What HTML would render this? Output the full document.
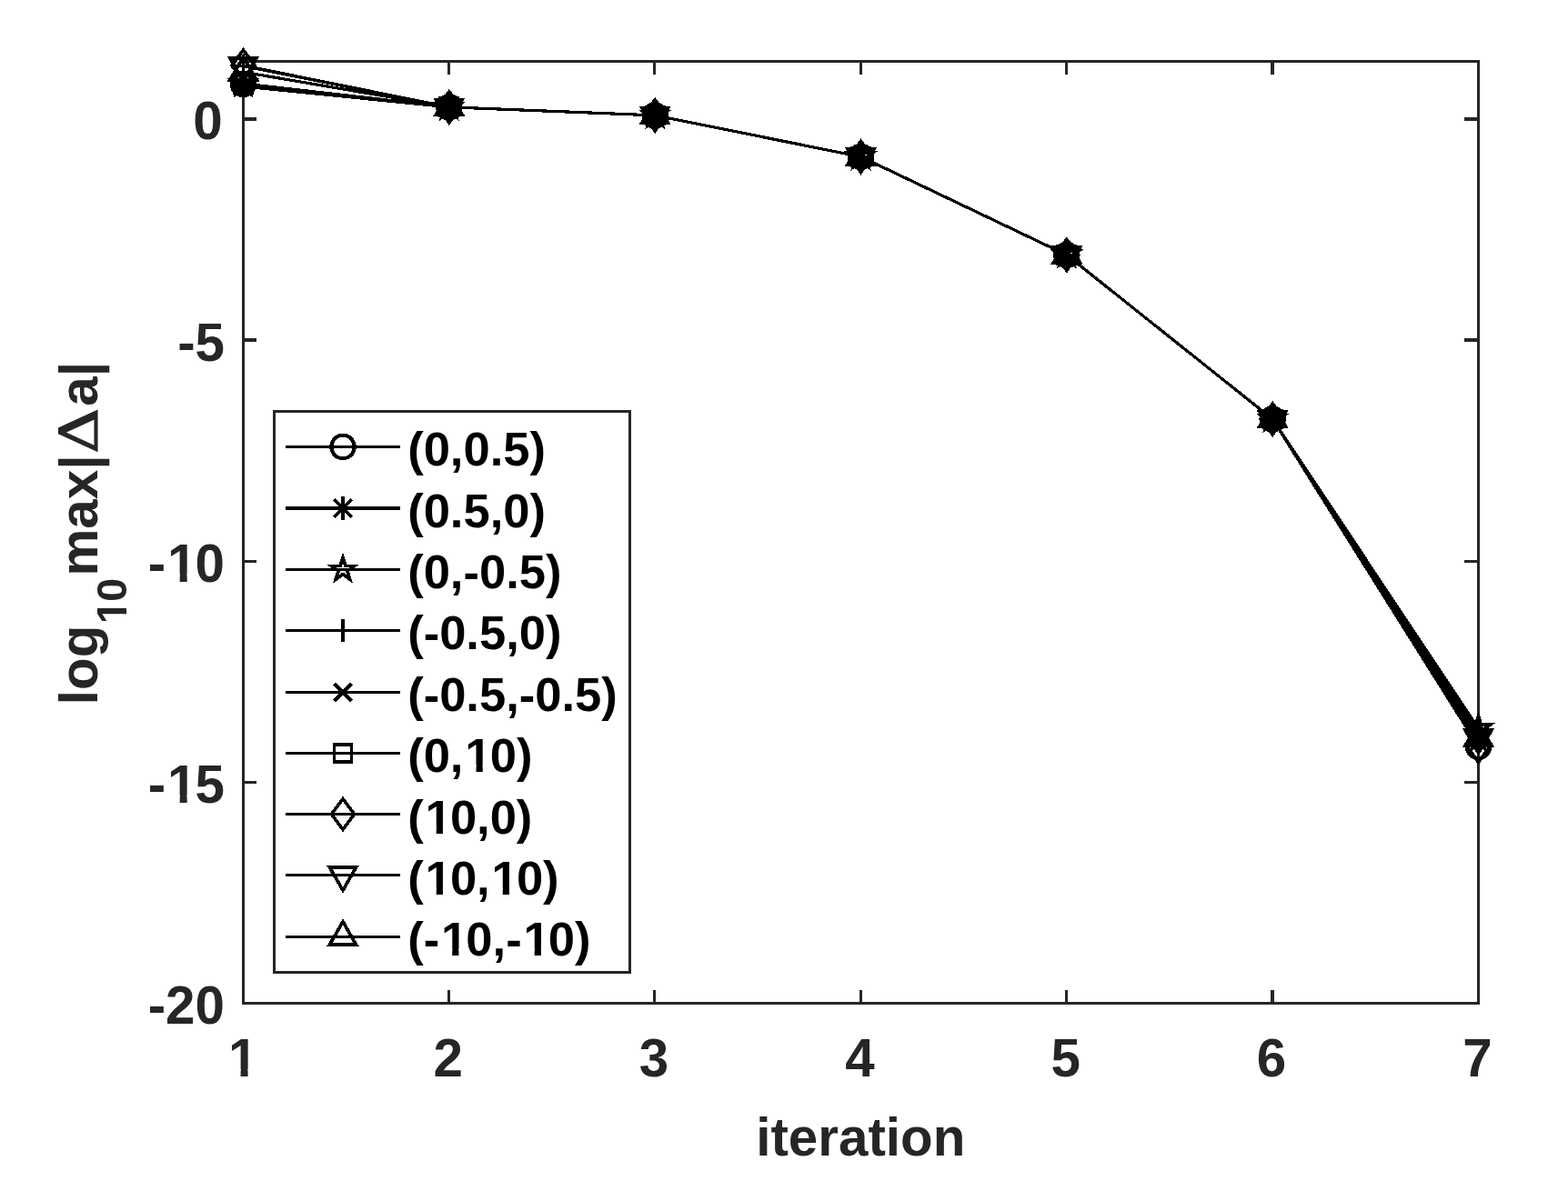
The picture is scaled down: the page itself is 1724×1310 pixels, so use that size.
<!DOCTYPE html>
<html lang="en"><head><meta charset="utf-8"><title>Convergence plot</title>
<style>
html,body{margin:0;padding:0;background:#fff;}
body{width:1724px;height:1310px;overflow:hidden;font-family:"Liberation Sans",sans-serif;}
svg{display:block;}
.ax{fill:none;stroke:#262626;stroke-width:3.0;stroke-linecap:butt;stroke-linejoin:miter;}
.dl{fill:none;stroke:#000;stroke-width:3.2;stroke-linejoin:round;shape-rendering:crispEdges;}
.mk{fill:none;stroke:#000;stroke-width:3.7;shape-rendering:crispEdges;stroke-linejoin:miter;stroke-miterlimit:10;}
.tk{font-family:"Liberation Sans",sans-serif;font-weight:bold;font-size:58.33px;fill:#262626;}
.lg{font-family:"Liberation Sans",sans-serif;font-weight:bold;font-size:52.5px;fill:#000;}
</style></head><body>
<svg width="1724" height="1310" viewBox="0 0 1724 1310" role="img" aria-label="Convergence of log10 max |Δa| versus iteration for nine starting points">
<rect x="0" y="0" width="1724" height="1310" fill="#fff"/>
<g id="axes" class="ax">
<rect x="267.5" y="67.5" width="1358.0" height="1036.0"/>
<path d="M493.5 1104V1089M493.5 67V82" style="stroke-width:3px;shape-rendering:crispEdges"/>
<path d="M719.5 1104V1089M719.5 67V82" style="stroke-width:3px;shape-rendering:crispEdges"/>
<path d="M946.5 1104V1089M946.5 67V82" style="stroke-width:3px;shape-rendering:crispEdges"/>
<path d="M1172.5 1104V1089M1172.5 67V82" style="stroke-width:3px;shape-rendering:crispEdges"/>
<path d="M1399.0 1104V1089M1399.0 67V82" style="stroke-width:4px;shape-rendering:crispEdges"/>
<path d="M267 131.0H282M1626 131.0H1610" style="stroke-width:4px;shape-rendering:crispEdges"/>
<path d="M267 374.0H282M1626 374.0H1610" style="stroke-width:4px;shape-rendering:crispEdges"/>
<path d="M267 617.5H282M1626 617.5H1610" style="stroke-width:3px;shape-rendering:crispEdges"/>
<path d="M267 860.5H282M1626 860.5H1610" style="stroke-width:3px;shape-rendering:crispEdges"/>
</g>
<g id="series">
<polyline class="dl" points="267.5,92.5 493.8,117.8 720.2,126.9 946.5,172.4 1172.8,280.4 1399.2,461.0 1625.5,821.3"/>
<g class="mk"><circle cx="267.5" cy="92.5" r="12.7" style="stroke-width:4.1px"/><circle cx="493.83" cy="117.85" r="12.7" style="stroke-width:4.1px"/><circle cx="720.17" cy="126.9" r="12.7" style="stroke-width:4.1px"/><circle cx="946.5" cy="172.4" r="12.7" style="stroke-width:4.1px"/><circle cx="1172.83" cy="280.4" r="12.7" style="stroke-width:4.1px"/><circle cx="1399.17" cy="461" r="12.7" style="stroke-width:4.1px"/><circle cx="1625.5" cy="821.3" r="12.7" style="stroke-width:4.1px"/></g>
<polyline class="dl" points="267.5,93.6 493.8,117.8 720.2,126.9 946.5,172.4 1172.8,280.4 1399.2,461.0 1625.5,809.0"/>
<g class="mk"><path d="M254.6 93.6H280.4M267.5 80.7V106.5M257.9 84L277.1 103.2M257.9 103.2L277.1 84"/><path d="M480.93 117.85H506.73M493.83 104.95V130.75M484.23 108.25L503.43 127.45M484.23 127.45L503.43 108.25"/><path d="M707.27 126.9H733.07M720.17 114V139.8M710.57 117.3L729.77 136.5M710.57 136.5L729.77 117.3"/><path d="M933.6 172.4H959.4M946.5 159.5V185.3M936.9 162.8L956.1 182M936.9 182L956.1 162.8"/><path d="M1159.93 280.4H1185.73M1172.83 267.5V293.3M1163.23 270.8L1182.43 290M1163.23 290L1182.43 270.8"/><path d="M1386.27 461H1412.07M1399.17 448.1V473.9M1389.57 451.4L1408.77 470.6M1389.57 470.6L1408.77 451.4"/><path d="M1612.6 809H1638.4M1625.5 796.1V821.9M1615.9 799.4L1635.1 818.6M1615.9 818.6L1635.1 799.4"/></g>
<polyline class="dl" points="267.5,92.0 493.8,117.8 720.2,126.9 946.5,172.4 1172.8,280.4 1399.2,461.0 1625.5,801.4"/>
<g class="mk"><path d="M267.5 78.8L270.46 87.92L280.05 87.92L272.3 93.56L275.26 102.68L267.5 97.04L259.74 102.68L262.7 93.56L254.95 87.92L264.54 87.92Z"/><path d="M493.83 104.65L496.8 113.77L506.39 113.77L498.63 119.41L501.59 128.53L493.83 122.89L486.07 128.53L489.04 119.41L481.28 113.77L490.87 113.77Z"/><path d="M720.17 113.7L723.13 122.82L732.72 122.82L724.96 128.46L727.93 137.58L720.17 131.94L712.41 137.58L715.37 128.46L707.61 122.82L717.2 122.82Z"/><path d="M946.5 159.2L949.46 168.32L959.05 168.32L951.3 173.96L954.26 183.08L946.5 177.44L938.74 183.08L941.7 173.96L933.95 168.32L943.54 168.32Z"/><path d="M1172.83 267.2L1175.8 276.32L1185.39 276.32L1177.63 281.96L1180.59 291.08L1172.83 285.44L1165.07 291.08L1168.04 281.96L1160.28 276.32L1169.87 276.32Z"/><path d="M1399.17 447.8L1402.13 456.92L1411.72 456.92L1403.96 462.56L1406.93 471.68L1399.17 466.04L1391.41 471.68L1394.37 462.56L1386.61 456.92L1396.2 456.92Z"/><path d="M1625.5 788.2L1628.46 797.32L1638.05 797.32L1630.3 802.96L1633.26 812.08L1625.5 806.44L1617.74 812.08L1620.7 802.96L1612.95 797.32L1622.54 797.32Z"/></g>
<polyline class="dl" points="267.5,72.6 493.8,117.8 720.2,126.9 946.5,172.4 1172.8,280.4 1399.2,461.0 1625.5,813.5"/>
<g class="mk"><path d="M254.6 72.6H280.4M267.5 59.7V85.5"/><path d="M480.93 117.85H506.73M493.83 104.95V130.75"/><path d="M707.27 126.9H733.07M720.17 114V139.8"/><path d="M933.6 172.4H959.4M946.5 159.5V185.3"/><path d="M1159.93 280.4H1185.73M1172.83 267.5V293.3"/><path d="M1386.27 461H1412.07M1399.17 448.1V473.9"/><path d="M1612.6 813.5H1638.4M1625.5 800.6V826.4"/></g>
<polyline class="dl" points="267.5,95.0 493.8,117.8 720.2,126.9 946.5,172.4 1172.8,280.4 1399.2,461.0 1625.5,816.5"/>
<g class="mk"><path d="M258 85.5L277 104.5M258 104.5L277 85.5"/><path d="M484.33 108.35L503.33 127.35M484.33 127.35L503.33 108.35"/><path d="M710.67 117.4L729.67 136.4M710.67 136.4L729.67 117.4"/><path d="M937 162.9L956 181.9M937 181.9L956 162.9"/><path d="M1163.33 270.9L1182.33 289.9M1163.33 289.9L1182.33 270.9"/><path d="M1389.67 451.5L1408.67 470.5M1389.67 470.5L1408.67 451.5"/><path d="M1616 807L1635 826M1616 826L1635 807"/></g>
<polyline class="dl" points="267.5,92.3 493.8,117.8 720.2,126.9 946.5,172.4 1172.8,280.4 1399.2,461.0 1625.5,806.4"/>
<g class="mk"><path d="M257.95 82.75H277.05V101.85H257.95Z"/><path d="M484.28 108.3H503.38V127.4H484.28Z"/><path d="M710.62 117.35H729.72V136.45H710.62Z"/><path d="M936.95 162.85H956.05V181.95H936.95Z"/><path d="M1163.28 270.85H1182.38V289.95H1163.28Z"/><path d="M1389.62 451.45H1408.72V470.55H1389.62Z"/><path d="M1615.95 796.85H1635.05V815.95H1615.95Z"/></g>
<polyline class="dl" points="267.5,72.0 493.8,117.8 720.2,126.9 946.5,172.4 1172.8,280.4 1399.2,461.0 1625.5,821.3"/>
<g class="mk"><path d="M267.5 55.1L280.1 72L267.5 88.9L254.9 72Z"/><path d="M493.83 100.95L506.43 117.85L493.83 134.75L481.23 117.85Z"/><path d="M720.17 110L732.77 126.9L720.17 143.8L707.57 126.9Z"/><path d="M946.5 155.5L959.1 172.4L946.5 189.3L933.9 172.4Z"/><path d="M1172.83 263.5L1185.43 280.4L1172.83 297.3L1160.23 280.4Z"/><path d="M1399.17 444.1L1411.77 461L1399.17 477.9L1386.57 461Z"/><path d="M1625.5 804.4L1638.1 821.3L1625.5 838.2L1612.9 821.3Z"/></g>
<polyline class="dl" points="267.5,72.4 493.8,117.8 720.2,126.9 946.5,172.4 1172.8,280.4 1399.2,461.0 1625.5,811.4"/>
<g class="mk"><path d="M267.5 89.1L281.96 64.05L253.04 64.05Z"/><path d="M493.83 134.55L508.3 109.5L479.37 109.5Z"/><path d="M720.17 143.6L734.63 118.55L705.7 118.55Z"/><path d="M946.5 189.1L960.96 164.05L932.04 164.05Z"/><path d="M1172.83 297.1L1187.3 272.05L1158.37 272.05Z"/><path d="M1399.17 477.7L1413.63 452.65L1384.7 452.65Z"/><path d="M1625.5 828.1L1639.96 803.05L1611.04 803.05Z"/></g>
<polyline class="dl" points="267.5,79.3 493.8,117.8 720.2,126.9 946.5,172.4 1172.8,280.4 1399.2,461.0 1625.5,811.8"/>
<g class="mk"><path d="M267.5 62.6L281.96 87.65L253.04 87.65Z"/><path d="M493.83 101.15L508.3 126.2L479.37 126.2Z"/><path d="M720.17 110.2L734.63 135.25L705.7 135.25Z"/><path d="M946.5 155.7L960.96 180.75L932.04 180.75Z"/><path d="M1172.83 263.7L1187.3 288.75L1158.37 288.75Z"/><path d="M1399.17 444.3L1413.63 469.35L1384.7 469.35Z"/><path d="M1625.5 795.1L1639.96 820.15L1611.04 820.15Z"/></g>
</g>
<g id="xticks" class="tk" text-anchor="middle">
<text x="265.2" y="1184.3"><tspan dx="0.034em">1</tspan></text>
<text x="492.7" y="1184.3">2</text>
<text x="719.1" y="1184.3">3</text>
<text x="945.4" y="1184.3">4</text>
<text x="1171.7" y="1184.3">5</text>
<text x="1398.1" y="1184.3">6</text>
<text x="1624.4" y="1184.3">7</text>
</g>
<g id="yticks" class="tk" text-anchor="end">
<text x="244.7" y="153.0">0</text>
<text x="247.0" y="396.7">-5</text>
<text x="247.0" y="639.8">-<tspan dx="0.034em">1</tspan><tspan dx="-0.034em">0</tspan></text>
<text x="247.0" y="882.9">-<tspan dx="0.034em">1</tspan><tspan dx="-0.034em">5</tspan></text>
<text x="247.0" y="1126.0">-20</text>
</g>
<text class="tk" text-anchor="middle" x="946.3" y="1270.5">iteration</text>
<g class="tk" transform="translate(107,775.2) rotate(-90)"><text x="0" y="0">log</text><text x="87.4" y="31.5" style="font-size:46.67px"><tspan dx="0.034em">1</tspan><tspan dx="-0.034em">0</tspan></text><text x="141.7" y="0">max|</text><text transform="translate(278.8,0) scale(1.22,1)" x="-2.2" y="-0.5" style="font-family:'DejaVu Serif','Liberation Serif',serif;font-weight:normal;font-size:57.4px;stroke:#262626;stroke-width:1.1px;stroke-linejoin:miter">Δ</text><text x="328.4" y="0">a|</text></g>
<g id="legend">
<rect x="301.5" y="452.5" width="391.0" height="617.0" fill="#fff" stroke="#262626" stroke-width="3.0"/>
<path class="dl" style="stroke-width:3px" d="M314 491.5H440"/>
<g class="mk"><circle cx="377" cy="491.5" r="12.7" style="stroke-width:4.1px"/></g>
<text class="lg" x="448.2" y="512.3">(0,0.5)</text>
<path class="dl" style="stroke-width:4px" d="M314 559.0H440"/>
<g class="mk"><path d="M364.1 559H389.9M377 546.1V571.9M367.4 549.4L386.6 568.6M367.4 568.6L386.6 549.4"/></g>
<text class="lg" x="448.2" y="579.7">(0.5,0)</text>
<path class="dl" style="stroke-width:3px" d="M314 626.5H440"/>
<g class="mk"><path d="M377 613.3L379.96 622.42L389.55 622.42L381.8 628.06L384.76 637.18L377 631.54L369.24 637.18L372.2 628.06L364.45 622.42L374.04 622.42Z"/></g>
<text class="lg" x="448.2" y="647.0">(0,-0.5)</text>
<path class="dl" style="stroke-width:3px" d="M314 693.5H440"/>
<g class="mk"><path d="M364.1 693.5H389.9M377 680.6V706.4"/></g>
<text class="lg" x="448.2" y="714.4">(-0.5,0)</text>
<path class="dl" style="stroke-width:3px" d="M314 761.5H440"/>
<g class="mk"><path d="M367.5 752L386.5 771M367.5 771L386.5 752"/></g>
<text class="lg" x="448.2" y="781.7">(-0.5,-0.5)</text>
<path class="dl" style="stroke-width:3px" d="M314 828.5H440"/>
<g class="mk"><path d="M367.45 818.95H386.55V838.05H367.45Z"/></g>
<text class="lg" x="448.2" y="849.1">(0,<tspan dx="0.034em">1</tspan><tspan dx="-0.034em">0</tspan>)</text>
<path class="dl" style="stroke-width:3px" d="M314 895.5H440"/>
<g class="mk"><path d="M377 878.6L389.6 895.5L377 912.4L364.4 895.5Z"/></g>
<text class="lg" x="448.2" y="916.5">(<tspan dx="0.034em">1</tspan><tspan dx="-0.034em">0</tspan>,0)</text>
<path class="dl" style="stroke-width:3px" d="M314 962.5H440"/>
<g class="mk"><path d="M377 979.2L391.46 954.15L362.54 954.15Z"/></g>
<text class="lg" x="448.2" y="983.8">(<tspan dx="0.034em">1</tspan><tspan dx="-0.034em">0</tspan>,<tspan dx="0.034em">1</tspan><tspan dx="-0.034em">0</tspan>)</text>
<path class="dl" style="stroke-width:3px" d="M314 1030.5H440"/>
<g class="mk"><path d="M377 1013.8L391.46 1038.85L362.54 1038.85Z"/></g>
<text class="lg" x="448.2" y="1051.2">(-<tspan dx="0.034em">1</tspan><tspan dx="-0.034em">0</tspan>,-<tspan dx="0.034em">1</tspan><tspan dx="-0.034em">0</tspan>)</text>
</g>
<g id="one-foot-mask" fill="#fff" stroke="none"><path d="M253.58 1175.55L264.58 1175.55L264.58 1187.80L253.58 1187.80Z"/><path d="M272.57 1175.55L282.75 1175.55L282.75 1187.80L272.57 1187.80Z"/><path d="M186.70 631.05L197.70 631.05L197.70 643.30L186.70 643.30Z"/><path d="M205.69 631.05L215.87 631.05L215.87 643.30L205.69 643.30Z"/><path d="M186.70 874.15L197.70 874.15L197.70 886.40L186.70 886.40Z"/><path d="M205.69 874.15L215.87 874.15L215.87 886.40L205.69 886.40Z"/><path d="M131.50 684.11L131.50 675.32L141.30 675.32L141.30 684.11Z"/><path d="M131.50 668.92L131.50 660.78L141.30 660.78L141.30 668.92Z"/><path d="M513.63 841.22L523.53 841.22L523.53 852.25L513.63 852.25Z"/><path d="M530.72 841.22L539.88 841.22L539.88 852.25L530.72 852.25Z"/><path d="M469.83 908.62L479.73 908.62L479.73 919.65L469.83 919.65Z"/><path d="M486.92 908.62L496.08 908.62L496.08 919.65L486.92 919.65Z"/><path d="M469.83 975.92L479.73 975.92L479.73 986.95L469.83 986.95Z"/><path d="M486.92 975.92L496.08 975.92L496.08 986.95L486.92 986.95Z"/><path d="M542.83 975.92L552.73 975.92L552.73 986.95L542.83 986.95Z"/><path d="M559.92 975.92L569.08 975.92L569.08 986.95L559.92 986.95Z"/><path d="M487.32 1043.32L497.21 1043.32L497.21 1054.35L487.32 1054.35Z"/><path d="M504.41 1043.32L513.57 1043.32L513.57 1054.35L504.41 1054.35Z"/><path d="M577.80 1043.32L587.70 1043.32L587.70 1054.35L577.80 1054.35Z"/><path d="M594.89 1043.32L604.05 1043.32L604.05 1054.35L594.89 1054.35Z"/></g>
</svg></body></html>
